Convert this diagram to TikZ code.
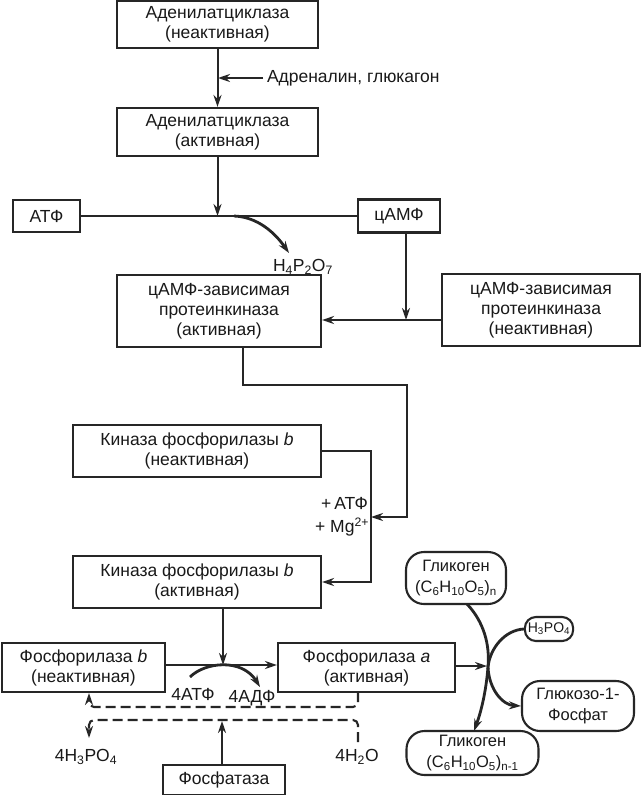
\documentclass[tikz,border=0pt]{standalone}
\usepackage{fontspec}
\setmainfont{Liberation Sans}
\usetikzlibrary{arrows.meta}
\begin{document}
\begin{tikzpicture}[x=1pt,y=-1pt,
  line width=2pt, draw=black!85, text=black!90,
  box/.style={draw, line width=2.1pt, inner sep=0pt, align=center, font=\fontsize{17.5}{20}\selectfont},
  rbox/.style={box, rounded corners=18pt, font=\fontsize{16.5}{21}\selectfont},
  lbl/.style={inner sep=0pt, font=\fontsize{17.5}{20}\selectfont},
  arr/.style={-{Stealth[length=12pt,width=8pt,inset=4pt]}},
  dsh/.style={dash pattern=on 10pt off 5pt, line width=2.1pt, rounded corners=5pt},
  thick curve/.style={line width=2.8pt}
]
\fill[white] (0,0) rectangle (642,795);
\useasboundingbox (0,0) rectangle (642,795);

% boxes
\node[box, minimum width=201, minimum height=47] (b1) at (217.5,24.5) {Аденилатциклаза\\(неактивная)};
\node[box, minimum width=201, minimum height=48] (b2) at (217.5,132) {Аденилатциклаза\\(активная)};
\node[box, minimum width=67, minimum height=32] (atf) at (46.5,216) {АТФ};
\node[box, minimum width=82, minimum height=33] (camp) at (399,216) {цАМФ};
\node[box, minimum width=204, minimum height=72] (pka) at (219,311) {цАМФ-зависимая\\протеинкиназа\\(активная)};
\node[box, minimum width=198, minimum height=72] (pki) at (541,310) {цАМФ-зависимая\\протеинкиназа\\(неактивная)};
\node[box, minimum width=248, minimum height=52] (kbi) at (197,451) {Киназа фосфорилазы \textit{b}\\(неактивная)};
\node[box, minimum width=248, minimum height=52] (kba) at (197,582) {Киназа фосфорилазы \textit{b}\\(активная)};
\node[box, minimum width=163, minimum height=49] (fb) at (83.5,667.5) {Фосфорилаза \textit{b}\\(неактивная)};
\node[box, minimum width=177, minimum height=49] (fa) at (366.5,667.5) {Фосфорилаза \textit{a}\\(активная)};
\node[box, minimum width=122, minimum height=30] (fos) at (224,780) {Фосфатаза};

% rounded boxes
\node[rbox, minimum width=100, minimum height=52] (g1) at (456,578) {Гликоген\\(C\textsubscript{6}H\textsubscript{10}O\textsubscript{5})\textsubscript{n}};
\node[rbox, inner xsep=3pt, minimum height=24, rounded corners=11pt, font=\fontsize{14}{16}\selectfont] (h3) at (549,629) {H\textsubscript{3}PO\textsubscript{4}};
\node[rbox, minimum width=112, minimum height=50] (glu) at (578,706) {Глюкозо-1-\\Фосфат};
\node[rbox, minimum width=132, minimum height=44] (g2) at (472.5,753) {Гликоген\\(C\textsubscript{6}H\textsubscript{10}O\textsubscript{5})\textsubscript{n-1}};

% labels
\node[lbl, anchor=west] (adr) at (266,78) {Адреналин, глюкагон};
\node[lbl, anchor=west] (h4) at (272,267) {H\textsubscript{4}P\textsubscript{2}O\textsubscript{7}};
\node[lbl, anchor=east] (patf) at (369,503) {+\,АТФ};
\node[lbl, anchor=east] (pmg) at (370,527) {+ Mg\textsuperscript{2+}};
\node[lbl] (atp4) at (193,694) {4АТФ};
\node[lbl] (adp4) at (252,698) {4АДФ};
\node[lbl] (p4) at (86,757) {4H\textsubscript{3}PO\textsubscript{4}};
\node[lbl] (w4) at (357,757) {4H\textsubscript{2}O};

% coordinates
\coordinate (adrtip) at (218,78);
\coordinate (j1) at (217.5,216);
\coordinate (c1) at (234,216);
\coordinate (h4tip) at (289,253);
\coordinate (cs) at (406,232);
\coordinate (j2) at (406,320);
\coordinate (pkb) at (243,347);
\coordinate (r1) at (243,385);
\coordinate (r2) at (407,385);
\coordinate (r3) at (407,517);
\coordinate (k1) at (371,517);
\coordinate (k2) at (371,451);
\coordinate (k3) at (371,582);
\coordinate (kb) at (223,608);
\coordinate (j3) at (223,665);
\coordinate (arc1) at (190,677);
\coordinate (arc2) at (260,687);
\coordinate (fatip) at (487,666);
\coordinate (d1) at (358,692);
\coordinate (d1b) at (358,707);
\coordinate (d1c) at (89,707);
\coordinate (d1d) at (89,693);
\coordinate (d2) at (358,742);
\coordinate (d2b) at (358,720);
\coordinate (d2c) at (89,720);
\coordinate (d2d) at (89,738);
\coordinate (ftop) at (222,765);
\coordinate (ftip) at (222,721);
\coordinate (gm) at (488,667);

% connectors
\draw[arr] (b1) -- (b2);
\draw[arr, shorten <=3pt] (adr.west) -- (adrtip);
\draw (atf.east) -- (atf.east -| camp.west);
\draw[arr] (b2) -- (j1);
\draw[arr, thick curve] (c1) .. controls (258,217) and (275,233) .. (h4tip);
\draw[arr] (cs) -- (j2);
\draw[arr] (pki.west |- j2) -- (pka.east |- j2);
\draw[arr] (pkb) -- (r1) -- (r2) -- (r3) -- (k1);
\draw[arr] (kbi.east |- k2) -- (k2) -- (k3) -- (kba.east |- k3);
\draw[arr] (kb) -- (j3);
\draw[arr] (fb.east |- j3) -- (fa.west |- j3);
\draw[arr, thick curve] (arc1) .. controls (205,662) and (242,658) .. (arc2);
\draw[arr] (fa.east |- fatip) -- (fatip);
\draw[arr, dsh] (d1) -- (d1b) -- (d1c) -- (d1d);
\draw[arr, dsh] (d2) -- (d2b) -- (d2c) -- (d2d);
\draw[arr] (ftop) -- (ftip);

% glycogen reaction
\draw[arr, thick curve] (467,604) .. controls (484,622) and (490,645) .. (gm) .. controls (486,692) and (481,712) .. (474,731);
\draw[arr, thick curve] (h3.west) .. controls (505,630) and (490,648) .. (gm) .. controls (489,690) and (503,705) .. (glu.west);
\end{tikzpicture}
\end{document}
